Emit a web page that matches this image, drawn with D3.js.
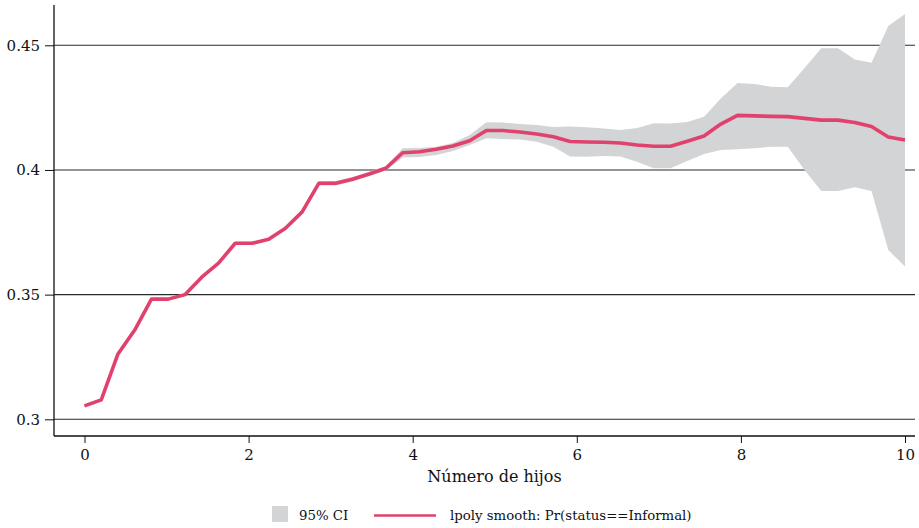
<!DOCTYPE html>
<html lang="es">
<head>
    <meta charset="UTF-8">
    <script src="https://d3js.org/d3.v7.min.js"></script>
    <style>
        body { margin: 0; background: #fff; }
        text { font-family: "DejaVu Serif", serif; fill: #111; }
    </style>
</head>
<body>
    <svg id="chart" width="919" height="528"></svg>

    <script>
        // Número de hijos (50 puntos de lpoly)
        const hijos = [0, 0.204, 0.408, 0.612, 0.816, 1.020, 1.224, 1.429, 1.633, 1.837,
            2.041, 2.245, 2.449, 2.653, 2.857, 3.061, 3.265, 3.469, 3.673, 3.878,
            4.082, 4.286, 4.490, 4.694, 4.898, 5.102, 5.306, 5.510, 5.714, 5.918,
            6.122, 6.327, 6.531, 6.735, 6.939, 7.143, 7.347, 7.551, 7.755, 7.959,
            8.163, 8.367, 8.571, 8.776, 8.980, 9.184, 9.388, 9.592, 9.796, 10];

        // Pr(status==Informal)
        const smooth = [0.3054, 0.3078, 0.3262, 0.3358, 0.3482, 0.3482, 0.3500, 0.3570, 0.3626, 0.3706,
            0.3706, 0.3722, 0.3766, 0.3832, 0.3947, 0.3947, 0.3963, 0.3984, 0.4007, 0.4069,
            0.4073, 0.4083, 0.4096, 0.4117, 0.4158, 0.4158, 0.4152, 0.4144, 0.4133, 0.4114,
            0.4112, 0.4111, 0.4108, 0.4100, 0.4095, 0.4095, 0.4115, 0.4136, 0.4184, 0.4219,
            0.4217, 0.4215, 0.4214, 0.4207, 0.4200, 0.4200, 0.4190, 0.4174, 0.4132, 0.4120];

        // 95% CI
        const ciUpper = [0.3060, 0.3084, 0.3268, 0.3364, 0.3488, 0.3488, 0.3506, 0.3576, 0.3632, 0.3712,
            0.3712, 0.3728, 0.3772, 0.3841, 0.3956, 0.3956, 0.3972, 0.3993, 0.4016, 0.4087,
            0.4088, 0.4093, 0.4108, 0.4140, 0.4191, 0.4190, 0.4184, 0.4180, 0.4172, 0.4174,
            0.4171, 0.4166, 0.4160, 0.4168, 0.4187, 0.4186, 0.4192, 0.4213, 0.4287, 0.4349,
            0.4345, 0.4334, 0.4332, 0.4409, 0.4488, 0.4488, 0.4443, 0.4430, 0.4577, 0.4626];
        const ciLower = [0.3048, 0.3072, 0.3256, 0.3352, 0.3476, 0.3476, 0.3494, 0.3564, 0.3620, 0.3700,
            0.3700, 0.3716, 0.3760, 0.3823, 0.3938, 0.3938, 0.3954, 0.3975, 0.3998, 0.4050,
            0.4052, 0.4060, 0.4076, 0.4100, 0.4127, 0.4124, 0.4122, 0.4113, 0.4093, 0.4054,
            0.4053, 0.4056, 0.4054, 0.4033, 0.4007, 0.4007, 0.4036, 0.4064, 0.4080, 0.4083,
            0.4087, 0.4093, 0.4093, 0.4000, 0.3916, 0.3916, 0.3931, 0.3916, 0.3679, 0.3613];

        const xTicks = [0, 2, 4, 6, 8, 10];
        const yTicks = [0.3, 0.35, 0.4, 0.45];
        const yTickLabels = ["0.3", "0.35", "0.4", "0.45"];

        const data = hijos.map((h, i) => ({ x: h, y: smooth[i], lo: ciLower[i], hi: ciUpper[i] }));

        const plot = { left: 54, right: 915, top: 5, bottom: 436 };
        const bandColor = "#d3d4d6";
        const lineColor = "#e0416d";

        const svg = d3.select("#chart");

        const x = d3.scaleLinear().domain([0, 10]).range([84.5, 905]);
        const y = d3.scaleLinear().domain([0.3, 0.45]).range([419.3, 45.3]);

        // gridlines
        svg.append("g")
            .selectAll("line")
            .data(yTicks)
            .enter().append("line")
            .attr("x1", plot.left)
            .attr("x2", plot.right)
            .attr("y1", d => y(d))
            .attr("y2", d => y(d))
            .attr("stroke", "#2a2a2a")
            .attr("stroke-width", 1.1);

        // banda de confianza
        svg.append("path")
            .datum(data)
            .attr("fill", bandColor)
            .attr("d", d3.area()
                .x(d => x(d.x))
                .y0(d => y(d.lo))
                .y1(d => y(d.hi)));

        svg.append("path")
            .datum(data)
            .attr("fill", "none")
            .attr("stroke", lineColor)
            .attr("stroke-width", 3.6)
            .attr("stroke-linejoin", "round")
            .attr("d", d3.line()
                .x(d => x(d.x))
                .y(d => y(d.y)));

        // eje Y
        const yAxis = svg.append("g")
            .attr("transform", `translate(${plot.left},0)`)
            .call(d3.axisLeft(y).tickValues(yTicks).tickFormat((d, i) => yTickLabels[i]).tickSize(9).tickPadding(5));
        yAxis.select(".domain").remove();
        yAxis.selectAll("line").attr("stroke", "#111");
        yAxis.selectAll("text").style("font-size", "15px").style("font-family", "DejaVu Serif");

        svg.append("line")
            .attr("x1", plot.left).attr("x2", plot.left)
            .attr("y1", plot.top).attr("y2", plot.bottom)
            .attr("stroke", "#111").attr("stroke-width", 1.3);

        // eje X
        const xAxis = svg.append("g")
            .attr("transform", `translate(0,${plot.bottom})`)
            .call(d3.axisBottom(x).tickValues(xTicks).tickFormat(d3.format("d")).tickSize(7).tickPadding(6));
        xAxis.select(".domain").remove();
        xAxis.selectAll("line").attr("stroke", "#111");
        xAxis.selectAll("text").style("font-size", "15px").style("font-family", "DejaVu Serif");

        svg.append("line")
            .attr("x1", plot.left).attr("x2", plot.right)
            .attr("y1", plot.bottom).attr("y2", plot.bottom)
            .attr("stroke", "#111").attr("stroke-width", 1.3);

        svg.append("text")
            .attr("x", (plot.left + plot.right) / 2 + 10)
            .attr("y", 482)
            .attr("text-anchor", "middle")
            .style("font-size", "16px")
            .text("Número de hijos");

        // leyenda
        const legend = svg.append("g");
        legend.append("rect")
            .attr("x", 272).attr("y", 506)
            .attr("width", 16).attr("height", 16)
            .attr("fill", bandColor);
        legend.append("text")
            .attr("x", 299).attr("y", 520)
            .style("font-size", "13.3px")
            .text("95% CI");
        legend.append("line")
            .attr("x1", 374).attr("x2", 436)
            .attr("y1", 515.5).attr("y2", 515.5)
            .attr("stroke", lineColor)
            .attr("stroke-width", 2.5);
        legend.append("text")
            .attr("x", 450).attr("y", 520)
            .style("font-size", "13.3px")
            .text("lpoly smooth: Pr(status==Informal)");
    </script>
</body>
</html>
